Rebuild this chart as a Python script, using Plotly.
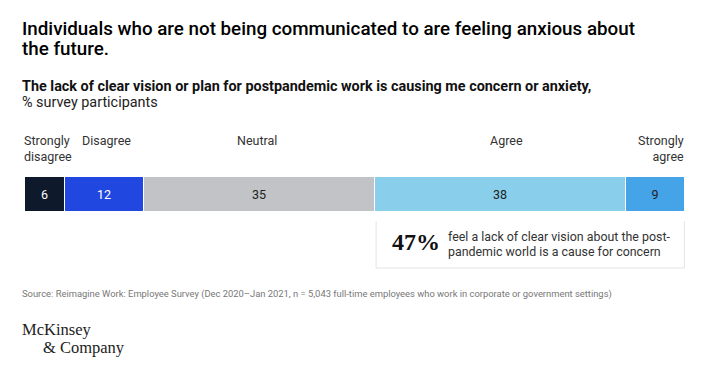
import plotly.graph_objects as go

categories = ["Strongly<br>disagree", "Disagree", "Neutral", "Agree", "Strongly<br>agree"]
values = [6, 12, 35, 38, 9]
colors = ["#0e1a2b", "#2047df", "#c1c3c7", "#89cfeb", "#45a3e8"]
text_colors = ["#ffffff", "#ffffff", "#222222", "#222222", "#222222"]
label_shift = [0, 2, -2, 6, 0]

W, H = 704, 366
def py(px):
    return 1 - px / H

FONT = "Roboto"

fig = go.Figure()
for cat, v, c, tc in zip(categories, values, colors, text_colors):
    fig.add_trace(go.Bar(
        y=["all"], x=[v], orientation="h", name=cat,
        marker=dict(color=c, line=dict(color="white", width=1)),
        text=[str(v)], textposition="inside", insidetextanchor="middle",
        textfont=dict(color=tc, size=12.5, family=FONT),
        hoverinfo="skip", width=1,
    ))

annotations = []
cum = 0
for i, (cat, v) in enumerate(zip(categories, values)):
    center = cum + v / 2
    if i == 0:
        a = dict(x=0, xanchor="left", xshift=-3, align="left")
    elif i == len(values) - 1:
        a = dict(x=100, xanchor="right", xshift=1, align="right")
    else:
        a = dict(x=center, xanchor="center", xshift=label_shift[i], align="center")
    a.update(xref="x", y=py(131), yref="paper", yanchor="top", text=cat,
             showarrow=False, font=dict(family=FONT, size=12.5, color="#333333"))
    annotations.append(a)
    cum += v

def txt(x, y, text, size, color="#000000", family=FONT, weight=None, anchor="middle"):
    f = dict(family=family, size=size, color=color)
    if weight:
        f["weight"] = weight
    return dict(x=x / W, y=py(y), xref="paper", yref="paper", xanchor="left",
                yanchor=anchor, text=text, align="left", showarrow=False,
                font=f, borderpad=0)

annotations += [
    txt(21, 29, "Individuals who are not being communicated to are feeling anxious about", 18.8, weight=500),
    txt(21, 49, "the future.", 18.8, weight=500),
    txt(21, 87, "<b>The lack of clear vision or plan for postpandemic work is causing me concern or anxiety,</b>", 14.4, "#111111"),
    txt(21, 103, "% survey participants", 14.4, "#222222"),
    txt(391, 242, "<b>47%</b>", 24, "#111111", family="Liberation Serif"),
    txt(447, 236, "feel a lack of clear vision about the post-", 12.4, "#333333"),
    txt(447, 251, "pandemic world is a cause for concern", 12.4, "#333333"),
    txt(21, 294, "Source: Reimagine Work: Employee Survey (Dec 2020\u2013Jan 2021, n = 5,043 full-time employees who work in corporate or government settings)",
        9.4, "#777777"),
    txt(21, 329, "McKinsey", 16.5, "#222222", family="Liberation Serif"),
    txt(42, 347, "&amp; Company", 16.5, "#222222", family="Liberation Serif"),
]

shapes = [
    dict(type="line", xref="x", yref="paper", x0=53.2, x1=53.2, y0=py(221), y1=py(268),
         line=dict(color="#e3e3e3", width=1)),
    dict(type="line", xref="x", yref="paper", x0=99.9, x1=99.9, y0=py(221), y1=py(268),
         line=dict(color="#e3e3e3", width=1)),
    dict(type="line", xref="x", yref="paper", x0=53.2, x1=99.9, y0=py(268), y1=py(268),
         line=dict(color="#e3e3e3", width=1)),
]

fig.update_layout(
    width=W, height=H, barmode="stack", bargap=0,
    showlegend=False, paper_bgcolor="white", plot_bgcolor="white",
    margin=dict(l=0, r=0, t=0, b=0),
    xaxis=dict(domain=[25 / W, 685 / W], range=[0, 100], visible=False, fixedrange=True),
    yaxis=dict(domain=[py(212), py(177)], range=[-0.5, 0.5], visible=False, fixedrange=True),
    annotations=annotations, shapes=shapes,
    uniformtext=dict(minsize=8, mode="show"),
)

fig.write_html("out.html", config={"displayModeBar": False},
               post_script="document.body.style.margin='0';document.body.style.overflow='hidden';")
